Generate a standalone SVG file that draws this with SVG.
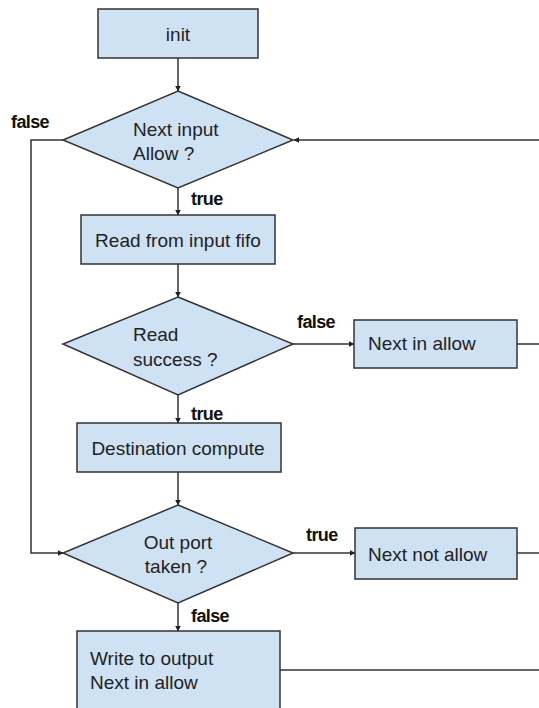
<svg xmlns="http://www.w3.org/2000/svg" width="539" height="708" viewBox="0 0 539 708">
<defs>
<style>
.box{fill:#cfe2f3;stroke:#333;stroke-width:1.5}
.t{font-family:"Liberation Sans",Arial,sans-serif;font-size:19px;fill:#222}
.lbl{font-family:"Liberation Sans",Arial,sans-serif;font-size:18px;font-weight:bold;fill:#111;letter-spacing:-0.6px}
.ln{fill:none;stroke:#333;stroke-width:1.5}
</style>
<marker id="ah" viewBox="0 0 10 10" refX="9" refY="5" markerWidth="6" markerHeight="6" markerUnits="userSpaceOnUse" orient="auto">
<path d="M0,0 L10,5 L0,10 z" fill="#222"/>
</marker>
</defs>
<rect width="539" height="708" fill="#fff"/>
<g id="connectors">
<path class="ln" d="M178,58 V91" marker-end="url(#ah)"/>
<path class="ln" d="M178,188 V215" marker-end="url(#ah)"/>
<path class="ln" d="M178,264 V297" marker-end="url(#ah)"/>
<path class="ln" d="M178,395 V423" marker-end="url(#ah)"/>
<path class="ln" d="M178,472 V505" marker-end="url(#ah)"/>
<path class="ln" d="M178,603 V631" marker-end="url(#ah)"/>
<path class="ln" d="M539,140 H294" marker-end="url(#ah)"/>
<path class="ln" d="M63,140 H31 V553 H63" marker-end="url(#ah)"/>
<path class="ln" d="M293,344 H354" marker-end="url(#ah)"/>
<path class="ln" d="M517,344 H539"/>
<path class="ln" d="M293,553 H355" marker-end="url(#ah)"/>
<path class="ln" d="M517,553 H539"/>
<path class="ln" d="M280,670 H539"/>
<text class="lbl" x="11" y="128">false</text>
<text class="lbl" x="191" y="205">true</text>
<text class="lbl" x="297" y="328">false</text>
<text class="lbl" x="191" y="420">true</text>
<text class="lbl" x="306" y="541">true</text>
<text class="lbl" x="191" y="622">false</text>
</g>
<g id="init">
<rect class="box" x="98" y="9" width="160" height="49"/>
<text class="t" x="178" y="41" text-anchor="middle">init</text>
</g>
<g id="next-input-allow">
<polygon class="box" points="178,91 293,140 178,188 63,140"/>
<text class="t" x="133" y="136">Next input</text>
<text class="t" x="133" y="160">Allow ?</text>
</g>
<g id="read-fifo">
<rect class="box" x="81" y="215" width="194" height="49"/>
<text class="t" x="178" y="247" text-anchor="middle">Read from input fifo</text>
</g>
<g id="read-success">
<polygon class="box" points="178,297 293,344 178,395 63,344"/>
<text class="t" x="133" y="341">Read</text>
<text class="t" x="133" y="366">success ?</text>
</g>
<g id="next-in-allow">
<rect class="box" x="354" y="320" width="163" height="48"/>
<text class="t" x="368" y="350">Next in allow</text>
</g>
<g id="destination-compute">
<rect class="box" x="77" y="423" width="204" height="49"/>
<text class="t" x="178" y="455" text-anchor="middle">Destination compute</text>
</g>
<g id="out-port-taken">
<polygon class="box" points="178,505 293,553 178,603 63,553"/>
<text class="t" x="178" y="549" text-anchor="middle">Out port</text>
<text class="t" x="176" y="573" text-anchor="middle">taken ?</text>
</g>
<g id="next-not-allow">
<rect class="box" x="355" y="528" width="162" height="51"/>
<text class="t" x="368" y="561">Next not allow</text>
</g>
<g id="write-output">
<rect class="box" x="77" y="631" width="203" height="90"/>
<text class="t" x="90" y="665">Write to output</text>
<text class="t" x="90" y="689">Next in allow</text>
</g>
</svg>
